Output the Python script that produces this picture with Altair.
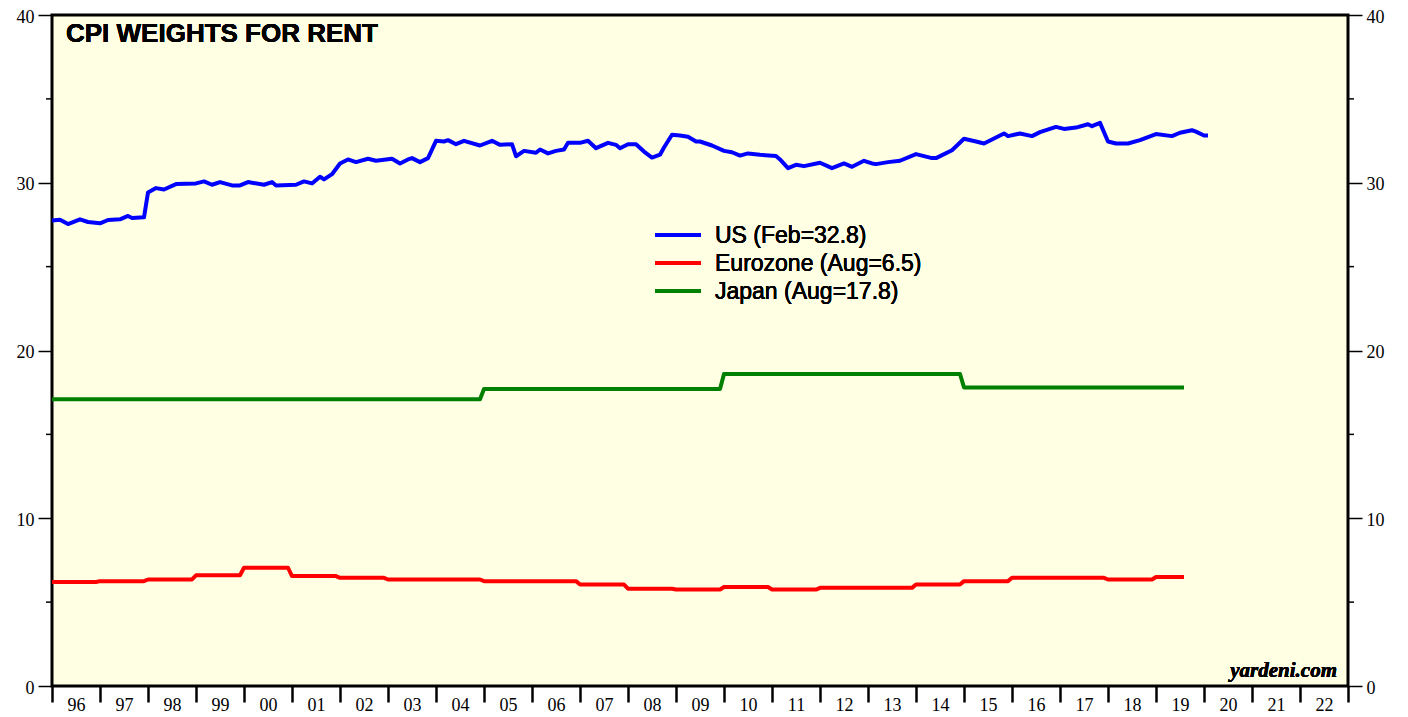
import altair as alt
import pandas as pd

# ---------------- data ----------------
us_months = [
    "1996-01", "1996-03", "1996-05", "1996-08", "1996-10",
    "1997-01", "1997-03", "1997-06", "1997-08", "1997-09", "1997-12",
    "1998-01", "1998-03", "1998-05", "1998-08",
    "1999-01", "1999-03", "1999-05", "1999-07", "1999-10", "1999-12",
    "2000-02", "2000-06", "2000-08", "2000-09",
    "2001-02", "2001-04", "2001-06", "2001-08", "2001-09", "2001-11",
    "2002-01", "2002-03", "2002-05", "2002-08", "2002-10",
    "2003-02", "2003-04", "2003-06", "2003-07", "2003-09", "2003-11",
    "2004-01", "2004-03", "2004-04", "2004-06", "2004-08", "2004-12",
    "2005-03", "2005-05", "2005-08", "2005-09", "2005-11",
    "2006-02", "2006-03", "2006-05", "2006-07", "2006-09", "2006-10",
    "2007-01", "2007-03", "2007-05", "2007-08", "2007-10", "2007-11",
    "2008-01", "2008-03", "2008-05", "2008-07", "2008-09", "2008-10", "2008-12",
    "2009-02", "2009-04", "2009-06", "2009-07", "2009-10",
    "2010-01", "2010-03", "2010-05", "2010-07", "2010-10",
    "2011-02", "2011-03", "2011-05", "2011-07", "2011-09",
    "2012-01", "2012-04", "2012-07", "2012-09", "2012-12",
    "2013-02", "2013-03", "2013-06", "2013-09",
    "2014-01", "2014-05", "2014-06", "2014-10",
    "2015-01", "2015-04", "2015-06", "2015-11", "2015-12",
    "2016-03", "2016-06", "2016-08", "2016-12",
    "2017-02", "2017-05", "2017-08", "2017-09", "2017-11",
    "2018-01", "2018-03", "2018-06", "2018-09",
    "2019-01", "2019-05", "2019-07", "2019-10", "2019-11",
    "2020-01", "2020-02",
]
us_values = [
    27.75, 27.8, 27.54, 27.82, 27.66,
    27.58, 27.78, 27.82, 28.02, 27.9, 27.94,
    29.42, 29.68, 29.6, 29.92,
    29.96, 30.08, 29.88, 30.04, 29.84, 29.84,
    30.04, 29.88, 30.04, 29.84,
    29.88, 30.08, 29.96, 30.36, 30.2, 30.51,
    31.15, 31.39, 31.23, 31.43, 31.31,
    31.43, 31.15, 31.39, 31.47, 31.23, 31.47,
    32.5, 32.46, 32.54, 32.3, 32.5, 32.22,
    32.5, 32.26, 32.3, 31.58, 31.9,
    31.79, 31.98, 31.75, 31.9, 31.98, 32.38,
    32.38, 32.5, 32.06, 32.38, 32.26, 32.06,
    32.3, 32.3, 31.86, 31.5, 31.67, 32.1, 32.86,
    32.82, 32.74, 32.46, 32.46, 32.22,
    31.9, 31.82, 31.62, 31.75, 31.67,
    31.59, 31.39, 30.87, 31.07, 30.99,
    31.19, 30.87, 31.15, 30.95, 31.31,
    31.15, 31.11, 31.23, 31.31,
    31.71, 31.47, 31.47, 31.94,
    32.62, 32.46, 32.34, 32.94, 32.78,
    32.94, 32.78, 33.02, 33.33,
    33.21, 33.29, 33.49, 33.37, 33.57,
    32.46, 32.34, 32.34, 32.54,
    32.9, 32.78, 32.98, 33.13, 33.05,
    32.82, 32.82,
]

# annual weights (Eurozone and Japan), last observation in August 2019
annual_years = list(range(1996, 2020))
euro_values = [6.2, 6.25, 6.35, 6.6, 7.05, 6.55, 6.45, 6.35, 6.35, 6.25, 6.25, 6.05,
               5.8, 5.75, 5.9, 5.75, 5.85, 5.85, 6.05, 6.25, 6.45, 6.45, 6.35, 6.5]
japan_values = [17.1] * 9 + [17.7] * 5 + [18.6] * 5 + [17.8] * 5
last_month = 8  # August 2019

series_names = ["US (Feb=32.8)", "Eurozone (Aug=6.5)", "Japan (Aug=17.8)"]
series_colors = ["#0000FF", "#FF0000", "#008000"]

y_major = [0, 10, 20, 30, 40]
y_minor = [5, 15, 25, 35]
x_ticks = list(range(1996, 2024))

# ---------------- build table ----------------
rows = []
for m, v in zip(us_months, us_values):
    yr, mo = int(m[:4]), int(m[5:])
    rows.append({"t": yr + (mo - 1) / 12, "v": v, "s": series_names[0]})


def annual_rows(values, name):
    out = []
    for i, (yr, v) in enumerate(zip(annual_years, values)):
        end_mo = 12 if i < len(annual_years) - 1 else last_month
        out.append({"t": yr, "v": v, "s": name})
        out.append({"t": yr + (end_mo - 1) / 12, "v": v, "s": name})
    return out


rows += annual_rows(euro_values, series_names[1])
rows += annual_rows(japan_values, series_names[2])
df = pd.DataFrame(rows)
minor_df = pd.DataFrame({"v": y_minor})
major_df = pd.DataFrame({"v": y_major})

W, H = 1296, 671
yscale = alt.Scale(domain=[0, 40], nice=False, zero=False)
LABEL_FONT = "Liberation Serif"

lines = alt.Chart(df).mark_line(strokeWidth=4, strokeJoin="round").encode(
    x=alt.X("t:Q", scale=alt.Scale(domain=[1996, 2023], nice=False, zero=False),
            title=None,
            axis=alt.Axis(values=x_ticks, domain=False, grid=False,
                          labelExpr="datum.value < 2023 ? substring(toString(datum.value), 2, 4) : ''",
                          labelOffset=24, labelPadding=-6, labelBaseline="top",
                          tickSize=16, tickWidth=2.5, tickColor="black",
                          labelFlush=False, labelOverlap=False, labelBound=False,
                          labelFont=LABEL_FONT, labelFontSize=18, labelColor="black")),
    y=alt.Y("v:Q", scale=yscale, title=None,
            axis=alt.Axis(orient="left", values=y_major, domain=False, grid=False,
                          tickSize=14, tickWidth=1.5, tickColor="black", labelPadding=4,
                          labelOffset=2, labelFlush=False, labelBound=False,
                          labelFont=LABEL_FONT, labelFontSize=18, labelColor="black")),
    color=alt.Color("s:N", scale=alt.Scale(domain=series_names, range=series_colors), legend=None),
    order=alt.Order("t:Q"),
)

minor_left = alt.Chart(minor_df).mark_rule(color="black", strokeWidth=1.5).encode(
    y=alt.Y("v:Q", scale=yscale, axis=None),
    x=alt.value(-6), x2=alt.value(0),
)

right_minor = alt.Chart(minor_df).mark_rule(color="black", strokeWidth=1.5).encode(
    y=alt.Y("v:Q", scale=yscale, axis=None),
    x=alt.value(W), x2=alt.value(W + 6),
)

right_axis = alt.Chart(major_df).mark_rule(opacity=0).encode(
    y=alt.Y("v:Q", scale=yscale, title=None,
            axis=alt.Axis(orient="right", values=y_major, domain=False, grid=False,
                          tickSize=14, tickWidth=1.5, tickColor="black", labelPadding=4,
                          labelOffset=2, labelFlush=False, labelBound=False,
                          labelFont=LABEL_FONT, labelFontSize=18, labelColor="black")),
    x=alt.value(0), x2=alt.value(1),
)

title_txt = alt.Chart(major_df).mark_text(
    align="left", baseline="alphabetic", font="Liberation Sans", fontWeight="bold",
    fontSize=26, color="black").encode(
    x=alt.value(14), y=alt.value(27), text=alt.value("CPI WEIGHTS FOR RENT"))

source_txt = alt.Chart(major_df).mark_text(
    align="right", baseline="alphabetic", font=LABEL_FONT, fontWeight="bold",
    fontStyle="italic", fontSize=21, color="black").encode(
    x=alt.value(1285), y=alt.value(662), text=alt.value("yardeni.com"))

legend_layers = []
legend_rows_y = [220, 248, 276]
for name, col, ry in zip(series_names, series_colors, legend_rows_y):
    legend_layers.append(
        alt.Chart(major_df).mark_rule(color=col, strokeWidth=4).encode(
            x=alt.value(603), x2=alt.value(649), y=alt.value(ry)))
    legend_layers.append(
        alt.Chart(major_df).mark_text(align="left", baseline="middle", font="Liberation Sans",
                                       fontSize=23, color="black").encode(
            x=alt.value(663), y=alt.value(ry + 1), text=alt.value(name)))

chart = alt.layer(
    lines, minor_left, right_minor, right_axis, title_txt, source_txt, *legend_layers
).resolve_axis(y="independent").resolve_scale(y="shared").properties(
    width=W, height=H,
    padding={"left": 44, "top": 7, "right": 52, "bottom": 30},
    autosize=alt.AutoSizeParams(type="none"),
    background="white",
).configure_view(fill="#FFFFE3", stroke="black", strokeWidth=3)

chart.save("out.html", embed_options={"renderer": "svg", "actions": False})
